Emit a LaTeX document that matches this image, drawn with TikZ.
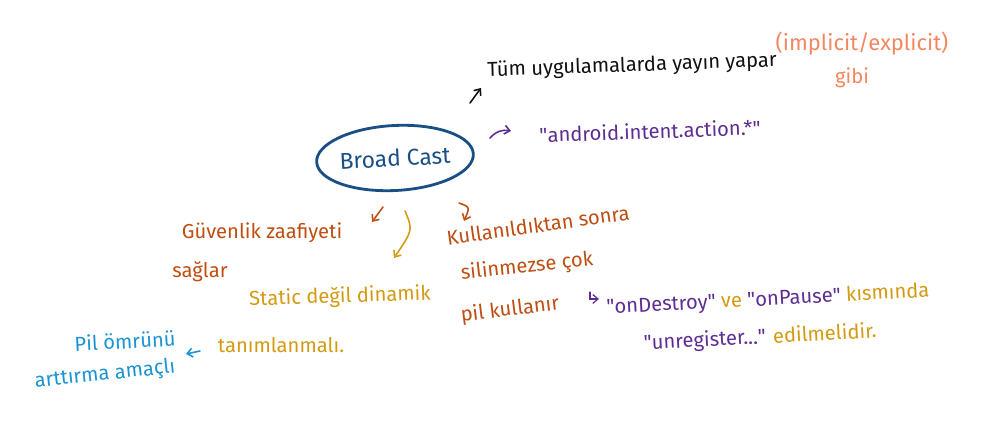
\documentclass[tikz,border=0pt]{standalone}
\usepackage{fontspec}
\setmainfont{Fira Sans}
\usetikzlibrary{positioning, arrows.meta, shapes.geometric}
\definecolor{inkBlack}{HTML}{111111}
\definecolor{inkSalmon}{HTML}{F4875F}
\definecolor{inkPurple}{HTML}{5E2D91}
\definecolor{inkNavy}{HTML}{1A4F86}
\definecolor{inkRust}{HTML}{BF4E12}
\definecolor{inkGold}{HTML}{D39A12}
\definecolor{inkCyan}{HTML}{1B94D3}
\newcommand{\qq}[1]{\textquotedbl#1\textquotedbl}

\begin{document}
\begin{tikzpicture}[x=0.02cm, y=-0.02cm,
  hand/.style={font=\fontsize{11.5}{13}\selectfont, inner sep=0pt},
  pen/.style={-{Straight Barb[length=3pt, width=5pt]}, line width=0.9pt, line cap=round}]
  \useasboundingbox (0,0) rectangle (1002,435);
  % center
  \node[hand, ellipse, draw=inkNavy, line width=1.6pt, text=inkNavy, minimum width=3cm, minimum height=1.3cm, rotate=3, font=\fontsize{13}{15}\selectfont] (bc) at (395,158) {Broad Cast};
  % top
  \node[hand, inkBlack, rotate=2] (tum) at (632,66) {Tüm uygulamalarda yayın yapar};
  \node[hand, inkSalmon, font=\fontsize{12.5}{14}\selectfont] (impl) at (862,44) {(implicit/explicit)};
  \node[hand, inkSalmon] (gibi) at (852,78) {gibi};
  \node[hand, inkPurple, rotate=2] (andr) at (650,131) {\qq{android.intent.action.*}};
  % left
  \node[hand, inkRust] (guv) at (262,233) {Güvenlik zaafiyeti};
  \node[hand, inkRust] (sag) at (200,272) {sağlar};
  \node[hand, inkGold, rotate=2] (stat) at (340,297) {Static değil dinamik};
  \node[hand, inkGold] (tanim) at (281,345) {tanımlanmalı.};
  \node[hand, inkCyan, rotate=3] (pil) at (125,341) {Pil ömrünü};
  \node[hand, inkCyan, rotate=6] (artt) at (105,375) {arttırma amaçlı};
  % right
  \node[hand, inkRust, rotate=8] (kul1) at (538,225) {Kullanıldıktan sonra};
  \node[hand, inkRust, rotate=6] (kul2) at (527,267) {silinmezse çok};
  \node[hand, inkRust, rotate=7] (kul3) at (510,310) {pil kullanır};
  \node[hand, inkPurple, rotate=3] (ondes) at (768,300) {\qq{onDestroy} \textcolor{inkGold}{ve} \qq{onPause} \textcolor{inkGold}{kısmında}};
  \node[hand, inkPurple, rotate=3] (unreg) at (760,338) {\qq{unregister...} \textcolor{inkGold}{edilmelidir.}};
  % arrows
  \coordinate (a1) at (470,103); \coordinate (a2) at (481,88);
  \draw[pen, inkBlack] (a1) -- (a2);
  \coordinate (b1) at (490,138); \coordinate (b2) at (511,131);
  \draw[pen, inkPurple] (b1) to[bend left=30] (b2);
  \coordinate (c1) at (383,207); \coordinate (c2) at (372,222);
  \draw[pen, inkRust] (c1) -- (c2);
  \coordinate (d1) at (405,211); \coordinate (d2) at (394,258);
  \draw[pen, inkGold] (d1) .. controls (413,230) .. (d2);
  \coordinate (e1) at (459,203); \coordinate (e2) at (464,221);
  \draw[pen, inkRust] (e1) .. controls (470,207) .. (e2);
  \coordinate (f1) at (590,292); \coordinate (f2) at (599,299);
  \draw[pen, inkPurple, line width=0.7pt] (f1) |- (f2);
  \coordinate (g1) at (200,351); \coordinate (g2) at (186,354);
  \draw[pen, inkCyan] (g1) -- (g2);
\end{tikzpicture}
\end{document}
